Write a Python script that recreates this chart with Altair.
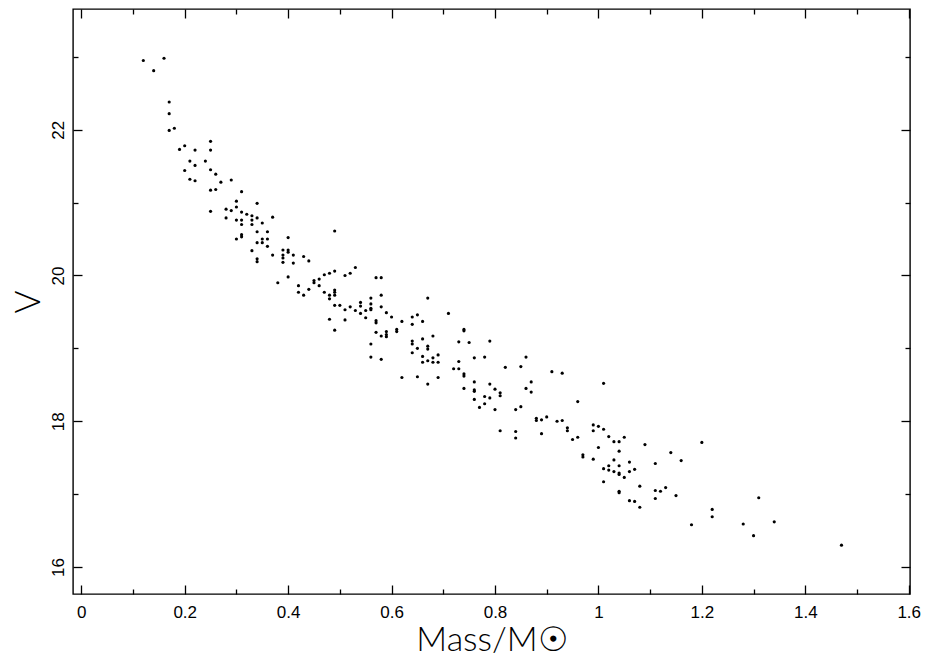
import altair as alt
import pandas as pd

# Mass (solar masses) and V magnitude
mass = [
    0.12, 0.16, 0.14, 0.17, 0.17, 0.17, 0.18, 0.19, 0.20, 0.22, 0.25, 0.25,
    0.21, 0.24, 0.22, 0.20, 0.25, 0.26, 0.21, 0.22, 0.27, 0.29, 0.25, 0.26,
    0.31, 0.34, 0.30, 0.25, 0.28, 0.29, 0.30, 0.31, 0.32, 0.33, 0.34, 0.37,
    0.28, 0.30, 0.31, 0.31, 0.33, 0.33, 0.35, 0.34, 0.36, 0.30, 0.31, 0.31,
    0.35, 0.36, 0.34, 0.35, 0.40, 0.36, 0.33, 0.37, 0.39, 0.40, 0.40, 0.41,
    0.39, 0.39, 0.34, 0.34, 0.39, 0.41, 0.43, 0.44,
    0.38, 0.40, 0.42, 0.42,
    0.49, 0.53, 0.52, 0.51, 0.49, 0.48, 0.47, 0.46, 0.45, 0.45, 0.44, 0.43,
    0.46, 0.47, 0.48, 0.48, 0.49, 0.49, 0.49, 0.49, 0.50, 0.51, 0.52, 0.53,
    0.54, 0.54, 0.54, 0.55, 0.55, 0.56, 0.56, 0.56, 0.56, 0.57, 0.58, 0.58,
    0.58, 0.59, 0.60, 0.57, 0.57, 0.62, 0.64, 0.65, 0.64, 0.66, 0.67, 0.71,
    0.48, 0.51, 0.49, 0.57, 0.58, 0.59, 0.59, 0.59, 0.61, 0.61, 0.56, 0.56,
    0.58, 0.64, 0.64, 0.65, 0.64, 0.66, 0.67, 0.67, 0.68, 0.66, 0.68, 0.69,
    0.74, 0.74, 0.73, 0.75, 0.76,
    0.66, 0.67, 0.68, 0.69, 0.62, 0.65, 0.67, 0.69, 0.78, 0.79, 0.72, 0.73,
    0.73, 0.74, 0.74, 0.74, 0.76, 0.76, 0.76, 0.76, 0.77, 0.78, 0.78, 0.79,
    0.79, 0.80, 0.80, 0.81, 0.81, 0.81, 0.82, 0.84, 0.84, 0.84, 0.85, 0.85,
    0.86, 0.86, 0.87, 0.87, 0.88, 0.88, 0.89, 0.90, 0.89, 0.91, 0.93, 0.92,
    0.93, 0.94, 0.94, 0.95, 0.96, 0.96, 0.97, 0.97, 0.99, 0.99, 0.99, 1.00,
    1.00, 1.01, 1.01, 1.01, 1.01, 1.02, 1.02, 1.02, 1.03, 1.03, 1.03, 1.04,
    1.04, 1.04, 1.04, 1.04, 1.04, 1.04, 1.05, 1.05, 1.06, 1.06, 1.07, 1.06,
    1.07, 1.08, 1.08, 1.09, 1.11, 1.11, 1.11, 1.12, 1.13, 1.14, 1.15, 1.16,
    1.18, 1.20, 1.22, 1.22, 1.28, 1.30, 1.31, 1.34, 1.47,
]
vmag = [
    22.95, 22.98, 22.81, 22.38, 22.22, 21.99, 22.02, 21.73, 21.78, 21.72, 21.84, 21.72,
    21.57, 21.57, 21.51, 21.44, 21.45, 21.39, 21.32, 21.30, 21.28, 21.31, 21.17, 21.18,
    21.15, 20.99, 21.02, 20.88, 20.91, 20.89, 20.94, 20.87, 20.84, 20.82, 20.79, 20.80,
    20.79, 20.76, 20.76, 20.70, 20.76, 20.70, 20.72, 20.60, 20.60, 20.50, 20.56, 20.53,
    20.50, 20.50, 20.45, 20.45, 20.52, 20.40, 20.34, 20.28, 20.35, 20.35, 20.32, 20.28,
    20.28, 20.24, 20.23, 20.19, 20.18, 20.17, 20.26, 20.20,
    19.90, 19.98, 19.86, 19.77,
    20.61, 20.11, 20.03, 20.00, 20.06, 20.03, 20.01, 19.95, 19.93, 19.90, 19.81, 19.73,
    19.86, 19.77, 19.73, 19.68, 19.80, 19.77, 19.73, 19.59, 19.59, 19.53, 19.57, 19.52,
    19.63, 19.58, 19.48, 19.52, 19.42, 19.69, 19.61, 19.55, 19.53, 19.97, 19.97, 19.73,
    19.57, 19.49, 19.43, 19.38, 19.35, 19.37, 19.43, 19.46, 19.33, 19.37, 19.69, 19.48,
    19.40, 19.39, 19.25, 19.22, 19.17, 19.23, 19.19, 19.16, 19.26, 19.23, 19.06, 18.88,
    18.85, 19.10, 19.06, 19.00, 18.94, 19.13, 19.03, 18.99, 19.17, 18.89, 18.87, 18.91,
    19.26, 19.24, 19.09, 19.08, 18.87,
    18.81, 18.83, 18.81, 18.81, 18.60, 18.61, 18.51, 18.60, 18.88, 19.10, 18.72, 18.72,
    18.82, 18.65, 18.62, 18.45, 18.54, 18.43, 18.41, 18.30, 18.19, 18.34, 18.24, 18.51,
    18.32, 18.44, 18.16, 18.39, 18.35, 17.87, 18.74, 18.16, 17.86, 17.77, 18.75, 18.20,
    18.88, 18.45, 18.54, 18.40, 18.04, 18.01, 18.02, 18.06, 17.83, 18.68, 18.66, 18.00,
    18.01, 17.91, 17.87, 17.75, 17.78, 18.27, 17.54, 17.51, 17.95, 17.87, 17.48, 17.93,
    17.64, 18.52, 17.89, 17.35, 17.17, 17.79, 17.39, 17.33, 17.72, 17.47, 17.31, 17.72,
    17.59, 17.39, 17.29, 17.27, 17.04, 17.02, 17.78, 17.23, 17.44, 17.31, 17.34, 16.91,
    16.90, 16.82, 17.11, 17.68, 17.42, 17.05, 16.94, 17.04, 17.09, 17.57, 16.98, 17.46,
    16.58, 17.71, 16.79, 16.69, 16.59, 16.43, 16.95, 16.62, 16.30,
]

x_major = [0, 0.2, 0.4, 0.6, 0.8, 1, 1.2, 1.4, 1.6]
x_minor = [0.1, 0.3, 0.5, 0.7, 0.9, 1.1, 1.3, 1.5]
y_major = [16, 18, 20, 22]
y_minor = [17, 19, 21, 23]

df = pd.DataFrame({"mass": mass, "V": vmag})

W, H = 837, 585
XDOM = [-0.016, 1.6025]
YDOM = [15.63, 23.656]
MAJ, MIN = 9, 5
LABEL_FONT = "Liberation Sans"
TITLE_FONT = "Lato"

xs = alt.Scale(domain=XDOM, nice=False, zero=False)
ys = alt.Scale(domain=YDOM, nice=False, zero=False)


def ax(orient, values, size, labels=False, **kw):
    return alt.Axis(
        orient=orient, values=values, tickSize=size, offset=-size,
        domain=False, grid=False, labels=labels, ticks=True,
        tickColor="#000", tickWidth=1.3, **kw
    )


base = alt.Chart(df)

main = base.mark_circle(size=10, color="#000", opacity=1).encode(
    x=alt.X("mass:Q", scale=xs, axis=ax(
        "bottom", x_major, MAJ, labels=True, format="~g",
        title="Mass/M\u2609", labelFont=LABEL_FONT, labelFontSize=17,
        labelColor="#000", labelPadding=10, labelAngle=0,
        labelAlign="center", labelBaseline="top", labelFlush=False,
        titleFont=TITLE_FONT, titleFontSize=34, titleFontWeight=300,
        titleColor="#000", titleX=W / 2, titleY=65, titleAlign="center",
        titleBaseline="alphabetic")),
    y=alt.Y("V:Q", scale=ys, axis=ax(
        "left", y_major, MAJ, labels=True, format="~g",
        title="V", labelFont=LABEL_FONT, labelFontSize=17,
        labelColor="#000", labelPadding=10, labelAngle=270,
        labelAlign="center", labelBaseline="alphabetic", labelFlush=False,
        titleFont=TITLE_FONT, titleFontSize=35, titleFontWeight=300,
        titleColor="#000", titleAngle=270, titleX=-43, titleY=H / 2,
        titleAlign="center", titleBaseline="alphabetic")),
)


def ghost(xo, xv, xsz, yo, yv, ysz):
    return base.mark_circle(size=1, opacity=0).encode(
        x=alt.X("mass:Q", scale=xs, axis=ax(xo, xv, xsz, title=None)),
        y=alt.Y("V:Q", scale=ys, axis=ax(yo, yv, ysz, title=None)),
    )


chart = alt.layer(
    main,
    ghost("bottom", x_minor, MIN, "left", y_minor, MIN),
    ghost("top", x_major, MAJ, "right", y_major, MAJ),
    ghost("top", x_minor, MIN, "right", y_minor, MIN),
).resolve_axis(x="independent", y="independent").properties(
    width=W, height=H,
    autosize=alt.AutoSizeParams(type="none"),
    padding={"left": 73, "top": 9, "right": 21, "bottom": 64},
    background="white",
).configure_view(stroke="#000", strokeWidth=1.4)

chart.save("out.html", embed_options={"renderer": "svg", "actions": False})
